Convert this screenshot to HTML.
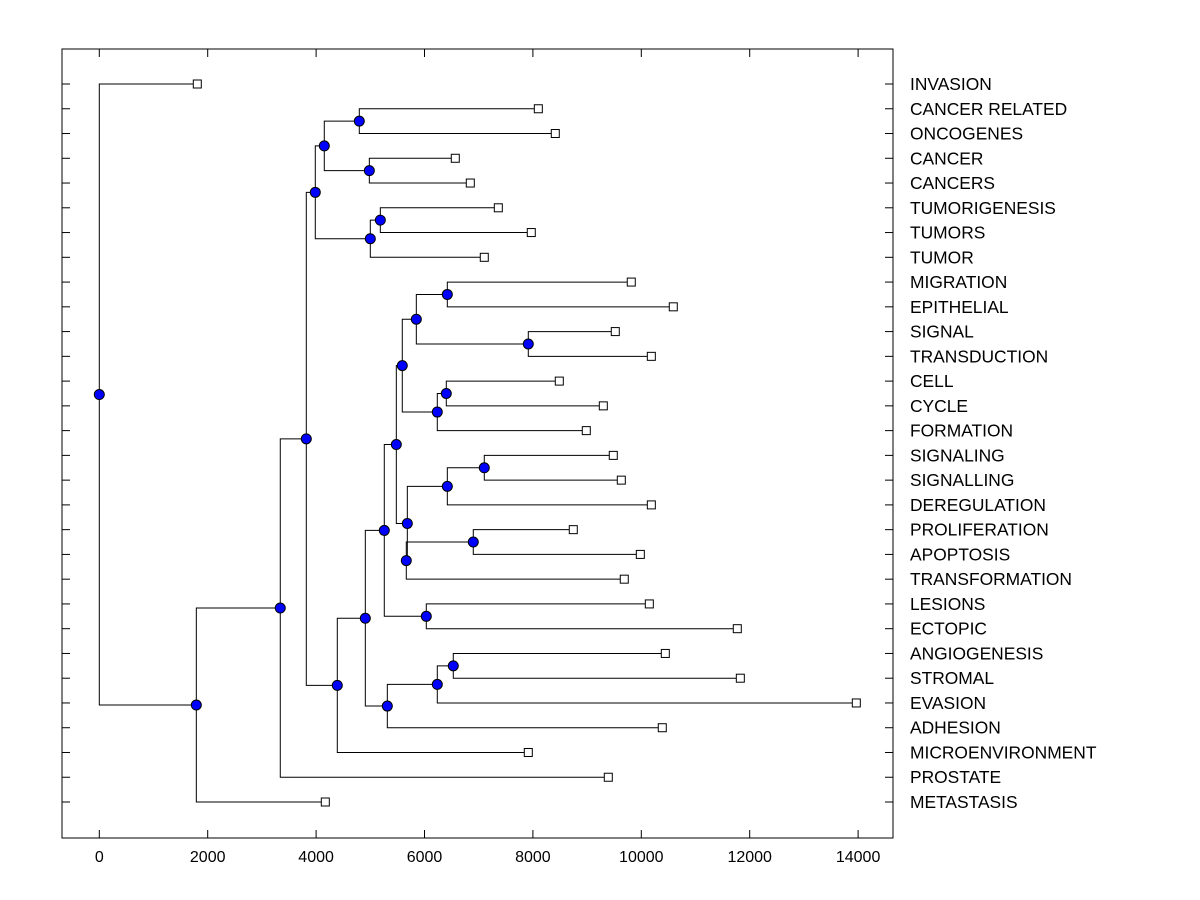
<!DOCTYPE html>
<html><head><meta charset="utf-8"><style>
body{margin:0;background:#fff}
svg{display:block;font-family:"Liberation Sans",Arial,sans-serif}
</style></head><body>
<svg id="chart" width="1200" height="900"></svg>
<script>
const leafNames=["INVASION","CANCER RELATED","ONCOGENES","CANCER","CANCERS","TUMORIGENESIS","TUMORS","TUMOR","MIGRATION","EPITHELIAL","SIGNAL","TRANSDUCTION","CELL","CYCLE","FORMATION","SIGNALING","SIGNALLING","DEREGULATION","PROLIFERATION","APOPTOSIS","TRANSFORMATION","LESIONS","ECTOPIC","ANGIOGENESIS","STROMAL","EVASION","ADHESION","MICROENVIRONMENT","PROSTATE","METASTASIS"];
const leafValues=[1808,8100,8413,6568,6845,7362,7970,7103,9815,10590,9520,10185,8487,9299,8985,9483,9631,10185,8745,9982,9686,10148,11771,10443,11827,13967,10387,7915,9391,4170];
const mergeChildren=[
["L1","L2"],["L3","L4"],["N0","N1"],["L5","L6"],["N3","L7"],["N2","N4"],
["L8","L9"],["L10","L11"],["N6","N7"],["L12","L13"],["N9","L14"],["N8","N10"],
["L15","L16"],["N12","L17"],["L18","L19"],["N14","L20"],["N13","N15"],["N11","N16"],
["L21","L22"],["N17","N18"],["L23","L24"],["N20","L25"],["N21","L26"],["N19","N22"],
["N23","L27"],["N5","N24"],["N25","L28"],["N26","L29"],["L0","N27"]];
const mergeHeights=[4797,4982,4151,5185,5000,3985,6421,7915,5849,6402,6236,5590,7103,6421,6900,5664,5683,5480,6033,5258,6531,6236,5314,4908,4391,3819,3339,1790,0];
const xTicks=[0,2000,4000,6000,8000,10000,12000,14000];

const NS="http://www.w3.org/2000/svg";
const svg=document.getElementById('chart');
const L=62,R=893,T=49,B=838;
const xs=v=>99.3+v*0.0542;
const ys=i=>84+i*(802-84)/29;
function mk(tag,attrs,parent){const e=document.createElementNS(NS,tag);for(const k in attrs)e.setAttribute(k,attrs[k]);(parent||svg).appendChild(e);return e;}

const frame=mk('rect',{x:L,y:T,width:R-L,height:B-T,fill:'none',stroke:'#000','stroke-width':1});



xTicks.forEach(t=>{
  const x=xs(t);
  const a=mk('line',{x1:x,x2:x,y1:B,y2:B-8,stroke:'#000'});
  
  
  const b=mk('line',{x1:x,x2:x,y1:T,y2:T+8,stroke:'#000'});
  
  
  const tx=mk('text',{x:x,y:B+24,'text-anchor':'middle','font-size':16});
  tx.textContent=t;
  
  
});

leafNames.forEach((n,i)=>{
  const y=ys(i);
  const a=mk('line',{x1:L,x2:L+8,y1:y,y2:y,stroke:'#000'});
  
  
  const b=mk('line',{x1:R,x2:R-8,y1:y,y2:y,stroke:'#000'});
  
  
  const tx=mk('text',{x:910,y:y+6,'font-size':17.4});
  tx.textContent=n;
  
  
});

const nodePos=[];
function pos(c){const k=c[0],i=+c.slice(1);if(k==='L')return{x:xs(leafValues[i]),y:ys(i)};return nodePos[i];}
const lines=mk('g',{}),dots=mk('g',{});




mergeChildren.forEach((m,i)=>{
  const a=pos(m[0]),b=pos(m[1]),x=xs(mergeHeights[i]);
  const p=mk('path',{d:`M${a.x},${a.y}H${x}V${b.y}H${b.x}`,fill:'none',stroke:'#000','stroke-width':1},lines);
  
  
  nodePos[i]={x:x,y:(a.y+b.y)/2};
});
leafNames.forEach((n,i)=>{
  const r=mk('rect',{x:xs(leafValues[i])-4,y:ys(i)-4,width:8,height:8,fill:'#fff',stroke:'#000'},dots);
  
  
});
nodePos.forEach(p=>{
  const c=mk('circle',{cx:p.x,cy:p.y,r:5,fill:'#0000ff',stroke:'#000'},dots);
  
  
});
</script>
</body></html>
